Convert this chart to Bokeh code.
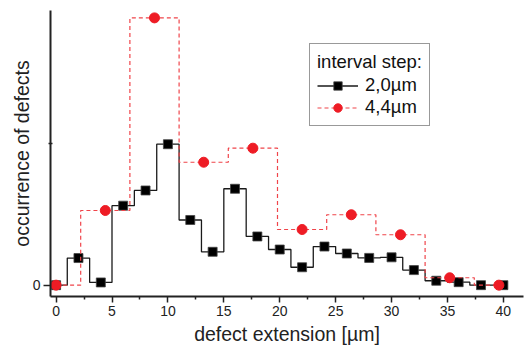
from bokeh.plotting import figure
from bokeh.models import (Legend, LegendItem, FixedTicker, Range1d, ColumnDataSource)
from bokeh.embed import file_html
from bokeh.resources import INLINE

# ---- data ----
x_step2 = [0, 2, 4, 6, 8, 10, 12, 14, 16, 18, 20, 22, 24, 26, 28, 30, 32, 34, 36, 38, 40]
y_step2 = [0, 1.91, 0.19, 5.60, 6.67, 9.93, 4.59, 2.35, 6.79, 3.43, 2.51, 1.26,
           2.72, 2.23, 1.92, 1.96, 1.06, 0.31, 0.21, 0.0, 0.0]
x_step44 = [0, 4.4, 8.8, 13.2, 17.6, 22.0, 26.4, 30.8, 35.2, 39.6]
y_step44 = [0, 5.26, 18.83, 8.66, 9.65, 3.92, 4.96, 3.55, 0.52, 0.0]
label2 = "2,0µm"
label44 = "4,4µm"
x_ticks = [0, 5, 10, 15, 20, 25, 30, 35, 40]
x_minor = [2.5, 7.5, 12.5, 17.5, 22.5, 27.5, 32.5, 37.5]

FONT = "Liberation Sans"
BLACK = "#1a1a1a"
RED_LINE = "#f0444a"
RED_DOT = "#ee1c25"

p = figure(width=528, height=349, output_backend="svg", toolbar_location=None,
           x_range=Range1d(-0.5, 41.8), y_range=Range1d(-0.8, 19.35),
           min_border_left=50, min_border_right=5, min_border_top=10,
           min_border_bottom=53)
p.outline_line_color = None
p.xgrid.visible = False
p.ygrid.visible = False

src2 = ColumnDataSource(dict(x=x_step2, y=y_step2))
src44 = ColumnDataSource(dict(x=x_step44, y=y_step44))

s2 = p.step("x", "y", source=src2, mode="center", line_color=BLACK, line_width=1.3)
m2 = p.scatter("x", "y", source=src2, marker="square", size=9,
               fill_color="black", line_color="#444444", line_width=0.8)
s44 = p.step("x", "y", source=src44, mode="center", line_color=RED_LINE,
             line_width=1.2, line_dash="4 3")
m44 = p.scatter("x", "y", source=src44, marker="circle", size=10,
                fill_color=RED_DOT, line_color=RED_DOT)

# legend proxies (placed outside the visible range)
l2 = p.line([-20, -19], [-20, -20], line_color=BLACK, line_width=1.3)
l44 = p.line([-20, -19], [-20, -20], line_color=RED_LINE, line_width=1.2, line_dash="4 3")

# axes
xa = p.xaxis[0]
xa.ticker = FixedTicker(ticks=x_ticks, minor_ticks=x_minor)
xa.axis_label = "defect extension [µm]"
ya = p.yaxis[0]
ya.ticker = FixedTicker(ticks=[0], minor_ticks=[10])
ya.axis_label = "occurrence of defects"
for ax in (xa, ya):
    ax.axis_line_width = 2
    ax.axis_line_color = "#222222"
    ax.major_tick_line_color = "#222222"
    ax.major_tick_line_width = 1.5
    ax.minor_tick_line_color = "#222222"
    ax.minor_tick_line_width = 1.5
    ax.major_tick_in = 0
    ax.major_tick_out = 6
    ax.minor_tick_in = 0
    ax.minor_tick_out = 3
    ax.major_label_text_font = FONT
    ax.major_label_text_font_size = "14px"
    ax.major_label_text_color = "#222222"
    ax.axis_label_text_font = FONT
    ax.axis_label_text_font_size = "19.5px"
    ax.axis_label_text_font_style = "normal"
    ax.axis_label_text_color = "#222222"
ya.minor_tick_out = 2
ya.minor_tick_in = 2
ya.major_tick_out = 7
xa.major_label_standoff = 3
xa.axis_label_standoff = 4
ya.major_label_standoff = 3
ya.axis_label_standoff = -3

legend = Legend(items=[LegendItem(label=label2, renderers=[l2, m2]),
                       LegendItem(label=label44, renderers=[l44, m44])],
                location=(259, 170), title="interval step:")
legend.title_text_font = FONT
legend.title_text_font_size = "18.5px"
legend.title_text_font_style = "normal"
legend.title_text_color = "#111111"
legend.title_standoff = 1
legend.label_text_font = FONT
legend.label_text_font_size = "18.5px"
legend.label_text_color = "#111111"
legend.border_line_color = "#333333"
legend.border_line_width = 1.2
legend.glyph_width = 41
legend.glyph_height = 21
legend.label_height = 21
legend.label_standoff = 7
legend.padding = 7
legend.spacing = 0
legend.margin = 0
legend.background_fill_alpha = 1
p.add_layout(legend, "center")

open("out.html", "w").write(file_html(p, INLINE))
